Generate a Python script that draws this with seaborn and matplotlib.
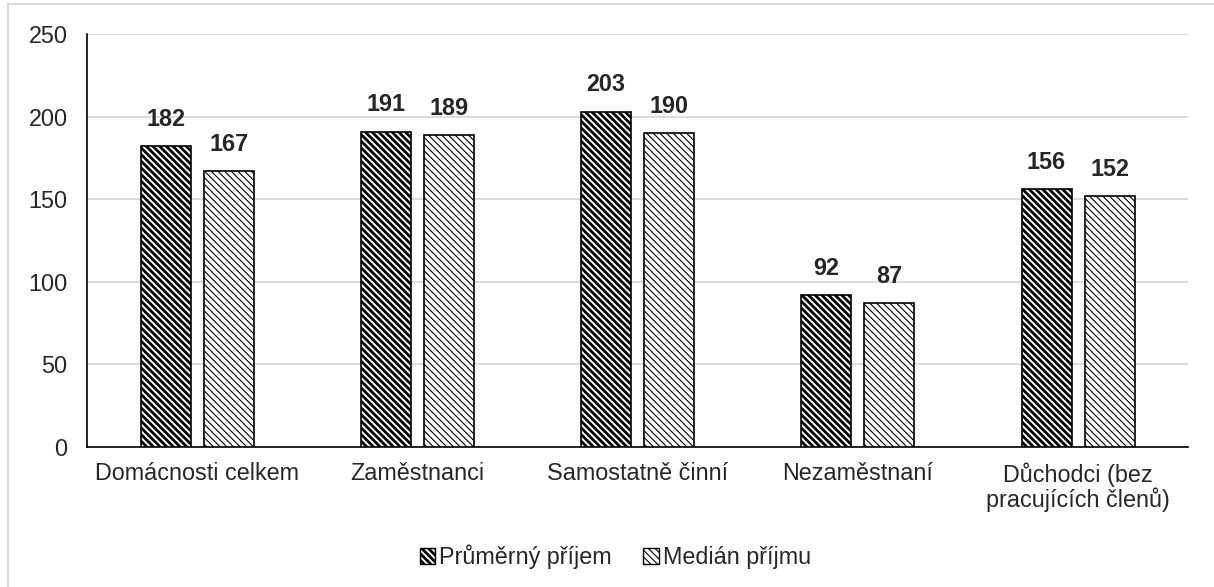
import pandas as pd
import matplotlib.pyplot as plt
import seaborn as sns
from matplotlib.patches import Patch, Rectangle

categories = ["Domácnosti celkem", "Zaměstnanci", "Samostatně činní", "Nezaměstnaní",
              "Důchodci (bez\npracujících členů)"]
series = ["Průměrný příjem", "Medián příjmu"]
prumer = [182, 191, 203, 92, 156]
median = [167, 189, 190, 87, 152]

df = pd.DataFrame({"kategorie": categories * 2,
                   "serie": [series[0]] * 5 + [series[1]] * 5,
                   "hodnota": prumer + median})

sns.set_style("white")
plt.rcParams["font.family"] = ["Liberation Sans", "DejaVu Sans"]
fs = 16.8

fig = plt.figure(figsize=(12.14, 5.87), dpi=100)
ax = fig.add_axes([0.0717, 0.2385, 0.907, 0.7035])

sns.barplot(data=df, x="kategorie", y="hodnota", hue="serie", palette=["white", "white"],
            width=0.572, gap=0.206, ax=ax, legend=False, zorder=3)

hatches = ["\\\\\\\\\\", "\\\\\\\\\\"]
hlw = [2.0, 0.8]


def set_hlw(p, lw):
    try:
        p.set_hatch_linewidth(lw)
    except AttributeError:
        pass


for cont, h, lw in zip(ax.containers, hatches, hlw):
    for bar in cont:
        bar.set_hatch(h)
        bar.set_edgecolor("black")
        bar.set_linewidth(1.2)
        set_hlw(bar, lw)
    ax.bar_label(cont, padding=11, fontsize=fs, fontweight="bold")

ax.set_ylim(0, 250)
ax.set_yticks(range(0, 251, 50))
ax.set_xlim(-0.5, 4.5)
ax.yaxis.grid(True, color="#d9d9d9", linewidth=1.3, zorder=0)
ax.set_axisbelow(True)
for s in ["top", "right"]:
    ax.spines[s].set_visible(False)
ax.spines["left"].set_color("black")
ax.spines["bottom"].set_color("black")
ax.spines["left"].set_linewidth(1.2)
ax.spines["bottom"].set_linewidth(1.2)
ax.tick_params(axis="both", labelsize=fs, length=0)
ax.tick_params(axis="x", pad=11)
ax.tick_params(axis="y", pad=14)
for lab in ax.get_xticklabels():
    lab.set_linespacing(1.05)
ax.set_xlabel("")
ax.set_ylabel("")

handles = [Patch(facecolor="white", edgecolor="black", hatch=hatches[0], label=series[0]),
           Patch(facecolor="white", edgecolor="black", hatch=hatches[1], label=series[1])]
leg = fig.legend(handles=handles, loc="center", bbox_to_anchor=(0.507, 0.051), ncol=2,
                 frameon=False, fontsize=fs, handlelength=0.65, handleheight=0.65,
                 handletextpad=0.2, columnspacing=1.35)
for p, lw in zip(leg.get_patches(), hlw):
    set_hlw(p, lw)

# light frame around the chart area
fig.patches.append(Rectangle((8 / 1214, -0.1), 1.2, 1 - 4 / 587 + 0.1, transform=fig.transFigure,
                             fill=False, edgecolor="#d9d9d9", linewidth=1.5))

fig.savefig("out.png", dpi=100)
